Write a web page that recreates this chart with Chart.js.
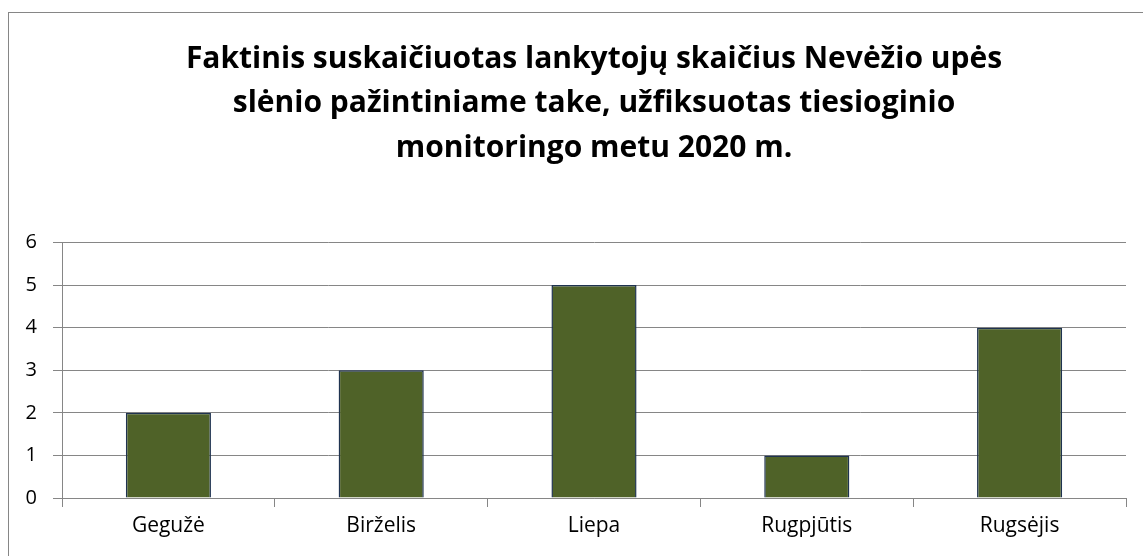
<!DOCTYPE html>
<html>
<head>
<meta charset="utf-8">
<script src="https://cdn.jsdelivr.net/npm/chart.js@4/dist/chart.umd.min.js"></script>
<style>
html, body { margin: 0; padding: 0; overflow: hidden; background: #fff; }
#wrap { width: 1186px; height: 556px; position: relative; }
</style>
</head>
<body>
<div id="wrap"><canvas id="chart1"></canvas></div>
<script>
var months = ['Gegužė', 'Birželis', 'Liepa', 'Rugpjūtis', 'Rugsėjis'];
var visitors = [2, 3, 5, 1, 4];
var yTicks = [0, 1, 2, 3, 4, 5, 6];
var titleLines = [
    'Faktinis suskaičiuotas lankytojų skaičius Nevėžio upės',
    'slėnio pažintiniame take, užfiksuotas tiesioginio',
    'monitoringo metu 2020 m.'
];

// outer frame of the chart, runs past the visible window on right and bottom
var frame = {
    id: 'frame',
    afterDraw: function (chart) {
        var c = chart.ctx;
        c.save();
        c.strokeStyle = '#868686';
        c.lineWidth = 1;
        c.strokeRect(8.5, 12.5, 1170, 600);
        c.restore();
    }
};

var ctx1 = document.getElementById('chart1').getContext('2d');

var chart1 = new Chart(ctx1, {
    type: 'bar',
    data: {
        labels: months,
        datasets: [{
            data: visitors,
            backgroundColor: '#4F6228',
            borderColor: '#1F3350',
            borderWidth: 1.5,
            categoryPercentage: 1,
            barPercentage: 0.4
        }]
    },
    options: {
        responsive: true,
        maintainAspectRatio: false,
        animation: false,
        layout: {
            padding: { left: 0, right: 60, top: 0, bottom: 0 }
        },
        plugins: {
            legend: { display: false },
            tooltip: { enabled: false },
            title: {
                display: true,
                fullSize: false, // centre over the plot area, not the whole canvas
                text: titleLines,
                color: '#000',
                font: { family: 'Open Sans', size: 30, weight: 'bold', lineHeight: 1.483 },
                padding: { top: 37, bottom: 72 }
            }
        },
        scales: {
            x: {
                grid: {
                    offset: true,
                    drawOnChartArea: false,
                    tickLength: 9,
                    color: '#868686'
                },
                border: { color: '#868686' },
                ticks: {
                    color: '#000',
                    padding: 6,
                    font: { family: 'Open Sans', size: 21 }
                },
                afterFit: function (scale) { scale.height = 58; }
            },
            y: {
                min: 0,
                max: 6,
                afterBuildTicks: function (scale) {
                    scale.ticks = yTicks.map(function (v) { return { value: v }; });
                },
                grid: {
                    color: '#868686',
                    tickLength: 9
                },
                border: { color: '#868686' },
                ticks: {
                    color: '#000',
                    padding: 16,
                    font: { family: 'Open Sans', size: 20 }
                },
                afterFit: function (scale) { scale.width = 62; }
            }
        }
    },
    plugins: [frame]
});
</script>
</body>
</html>
